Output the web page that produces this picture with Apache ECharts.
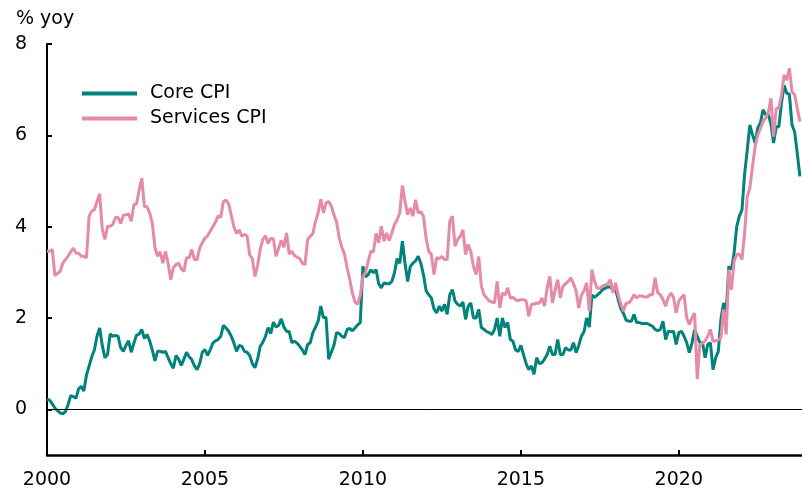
<!DOCTYPE html>
<html>
<head>
<meta charset="utf-8">
<script src="https://cdn.jsdelivr.net/npm/echarts@6/dist/echarts.min.js"></script>
<title>Core CPI and services CPI</title>
</head>
<body style="margin:0">
<div id="chart" style="width:802px;height:490px"></div>
<script>
// monthly, Jan 2000 - Nov 2023, % yoy
const startYear = 2000;
const coreCPI = [
  0.22, 0.2, 0.12, 0.03, -0.03, -0.08, -0.1, -0.05, 0.1, 0.3, 0.28, 0.24,
  0.45, 0.5, 0.4, 0.75, 0.95, 1.15, 1.3, 1.6, 1.78, 1.4, 1.13, 1.2,
  1.65, 1.6, 1.62, 1.6, 1.35, 1.27, 1.4, 1.5, 1.25, 1.45, 1.62, 1.65,
  1.75, 1.55, 1.64, 1.5, 1.3, 1.06, 1.27, 1.27, 1.25, 1.27, 1.13, 1.0,
  0.9, 1.18, 1.1, 0.96, 1.1, 1.25, 1.15, 1.09, 0.95, 0.87, 1.0, 1.25,
  1.31, 1.18, 1.3, 1.45, 1.5, 1.53, 1.6, 1.84, 1.78, 1.71, 1.6, 1.45,
  1.27, 1.4, 1.38, 1.27, 1.25, 1.18, 1.0, 0.91, 1.1, 1.38, 1.47, 1.6,
  1.79, 1.66, 1.91, 1.8, 1.84, 1.98, 1.8, 1.71, 1.7, 1.46, 1.49, 1.45,
  1.38, 1.3, 1.2, 1.42, 1.46, 1.68, 1.8, 1.93, 2.26, 2.01, 2.01, 1.1,
  1.25, 1.4, 1.68, 1.66, 1.6, 1.57, 1.75, 1.77, 1.72, 1.78, 1.85, 1.9,
  3.13, 2.9, 2.95, 3.06, 2.99, 3.06, 2.75, 2.66, 2.77, 2.75, 2.75, 2.8,
  2.99, 3.3, 3.2, 3.68, 3.2, 2.8, 3.13, 3.2, 3.25, 3.35, 3.2, 2.95,
  2.6, 2.51, 2.44, 2.2, 2.11, 2.26, 2.15, 2.3, 2.08, 2.51, 2.62, 2.37,
  2.3, 2.26, 2.35, 1.97, 2.26, 2.33, 2.0, 2.0, 2.19, 1.79, 1.75, 1.7,
  1.68, 1.64, 1.75, 2.0, 1.6, 2.0, 1.79, 1.9, 1.53, 1.49, 1.3, 1.27,
  1.4, 1.2, 1.0, 0.87, 0.95, 0.77, 1.13, 1.0, 1.02, 1.1, 1.2, 1.38,
  1.2, 1.2, 1.53, 1.2, 1.2, 1.35, 1.3, 1.3, 1.46, 1.24, 1.4, 1.6,
  1.7, 2.0, 1.8, 2.5, 2.45, 2.5, 2.55, 2.62, 2.65, 2.68, 2.68, 2.62,
  2.62, 2.4, 2.2, 2.1, 1.95, 1.93, 1.93, 2.08, 1.9, 1.9, 1.88, 1.88,
  1.88, 1.85, 1.82, 1.75, 1.72, 1.75, 1.93, 1.53, 1.71, 1.7, 1.71, 1.42,
  1.68, 1.71, 1.6, 1.46, 1.24, 1.45, 1.75, 1.6, 1.46, 1.46, 1.13, 1.42,
  1.46, 0.87, 1.13, 1.27, 1.97, 2.33, 2.11, 3.13, 3.06, 3.42, 4.0, 4.23,
  4.37, 5.15, 5.68, 6.23, 6.01, 5.83, 6.16, 6.27, 6.56, 6.45, 6.45, 6.25,
  5.83, 6.19, 6.19, 6.7, 7.1, 6.92, 6.9, 6.23, 6.08, 5.61, 5.1
];
const servicesCPI = [
  3.46, 3.46, 3.5, 2.93, 2.98, 3.02, 3.2, 3.28, 3.35, 3.45, 3.53, 3.42,
  3.42, 3.35, 3.35, 3.32, 4.23, 4.34, 4.37, 4.55, 4.72, 3.95, 3.72, 4.01,
  4.01, 4.05, 4.2, 4.2, 4.07, 4.25, 4.26, 4.28, 4.12, 4.48, 4.5, 4.8,
  5.06, 4.44, 4.44, 4.3, 4.08, 3.55, 3.35, 3.45, 3.2, 3.46, 3.2, 2.84,
  3.1, 3.17, 3.2, 3.08, 3.02, 3.32, 3.32, 3.5, 3.28, 3.28, 3.53, 3.65,
  3.75, 3.8, 3.9, 4.0, 4.1, 4.24, 4.2, 4.55, 4.58, 4.5, 4.25, 4.0,
  3.85, 3.93, 3.79, 3.83, 3.8, 3.38, 3.3, 2.91, 3.15, 3.5, 3.72, 3.8,
  3.63, 3.75, 3.73, 3.35, 3.53, 3.7, 3.55, 3.86, 3.4, 3.46, 3.37, 3.33,
  3.3, 3.2, 3.17, 3.72, 3.79, 3.85, 4.12, 4.3, 4.6, 4.3, 4.52, 4.55,
  4.45, 4.26, 4.1, 3.75, 3.55, 3.4, 3.1, 2.85, 2.55, 2.35, 2.3, 2.5,
  2.9, 3.0, 3.24, 3.46, 3.45, 3.85, 3.65, 4.01, 3.68, 3.86, 3.7, 3.86,
  4.05, 4.15, 4.3, 4.9, 4.55, 4.26, 4.41, 4.23, 4.59, 4.3, 4.33, 4.23,
  3.75, 3.46, 3.39, 2.95, 3.32, 3.3, 3.35, 3.28, 3.28, 4.12, 4.23, 3.57,
  3.72, 3.79, 3.93, 3.39, 3.61, 3.45, 3.13, 2.95, 3.35, 2.7, 2.51, 2.44,
  2.37, 2.35, 2.33, 2.8, 2.22, 2.55, 2.5, 2.66, 2.44, 2.45, 2.4, 2.38,
  2.4, 2.4, 2.38, 2.04, 2.3, 2.3, 2.33, 2.32, 2.44, 2.26, 2.66, 2.91,
  2.33, 2.6, 2.84, 2.44, 2.7, 2.75, 2.8, 2.88, 2.75, 2.59, 2.22, 2.5,
  2.6, 2.77, 2.15, 3.06, 2.8, 2.65, 2.65, 2.7, 2.72, 2.75, 2.84, 2.55,
  2.77, 2.5, 2.3, 2.15, 2.33, 2.33, 2.4, 2.51, 2.44, 2.48, 2.48, 2.46,
  2.46, 2.51, 2.51, 2.88, 2.55, 2.51, 2.4, 2.26, 2.45, 2.55, 2.45, 2.11,
  2.37, 2.45, 2.51, 2.0, 1.86, 2.0, 2.11, 0.66, 1.42, 1.45, 1.5, 1.6,
  1.75, 1.49, 1.5, 1.52, 1.57, 2.19, 1.64, 3.06, 2.62, 3.24, 3.39, 3.4,
  3.28, 3.86, 4.66, 4.85, 5.32, 5.76, 6.0, 6.15, 6.3, 6.38, 6.5, 6.81,
  5.97, 6.59, 6.6, 6.89, 7.32, 7.21, 7.47, 6.95, 6.89, 6.6, 6.3
];
const seriesNames = ['Core CPI', 'Services CPI'];
const yTicks = [0, 2, 4, 6, 8];
const xTicks = [2000, 2005, 2010, 2015, 2020];

function toPoints(values) {
  return values.map((v, i) => [startYear + i / 12, v]);
}

const font = 'DejaVu Sans';
let myChart = echarts.init(document.getElementById('chart'));
let option = {
  animation: false,
  textStyle: { fontFamily: font },
  grid: { left: 47, right: 0, top: 44, bottom: 34 },
  graphic: [{
    type: 'text', left: 16, top: 10,
    style: { text: '% yoy', fontSize: 19, fontFamily: font, fill: '#000' }
  }],
  legend: {
    orient: 'vertical',
    left: 82, top: 84, padding: 0,
    itemWidth: 55, itemHeight: 4, itemGap: 6,
    icon: 'rect',
    textStyle: { fontSize: 19, color: '#000', padding: [0, 0, 0, 8] },
    data: seriesNames
  },
  xAxis: [
    {
      type: 'value', min: 2000, max: 2023.9,
      axisLine: { onZero: false, lineStyle: { color: '#000', width: 2.5 } },
      axisTick: { inside: true, length: 5, customValues: xTicks, lineStyle: { color: '#000', width: 2 } },
      axisLabel: { customValues: xTicks, fontSize: 19, color: '#000', margin: 16, formatter: v => String(v) },
      splitLine: { show: false }
    },
    {
      // thin line at zero
      type: 'value', min: 2000, max: 2023.9, position: 'bottom',
      axisLine: { show: true, onZero: true, onZeroAxisIndex: 0, lineStyle: { color: '#000', width: 1 } },
      axisTick: { show: false },
      axisLabel: { show: false },
      splitLine: { show: false }
    }
  ],
  yAxis: {
    type: 'value', min: -1, max: 8,
    axisLine: { show: true, lineStyle: { color: '#000', width: 2 } },
    axisTick: { show: true, inside: true, length: 5, customValues: yTicks, lineStyle: { color: '#000', width: 2 } },
    axisLabel: { customValues: yTicks, fontSize: 19, color: '#000', margin: 20 },
    splitLine: { show: false }
  },
  series: [
    {
      name: seriesNames[0], type: 'line', data: toPoints(coreCPI),
      showSymbol: false, color: '#00837B',
      lineStyle: { width: 3, color: '#00837B' },
      markLine: {
        silent: true, symbol: 'none', label: { show: false },
        lineStyle: { color: '#000', width: 1, type: 'solid' },
        data: [{ yAxis: 0 }]
      }
    },
    {
      name: seriesNames[1], type: 'line', data: toPoints(servicesCPI),
      showSymbol: false, color: '#E68AA8',
      lineStyle: { width: 3, color: '#E68AA8' }
    }
  ]
};
myChart.setOption(option);
</script>
</body>
</html>
